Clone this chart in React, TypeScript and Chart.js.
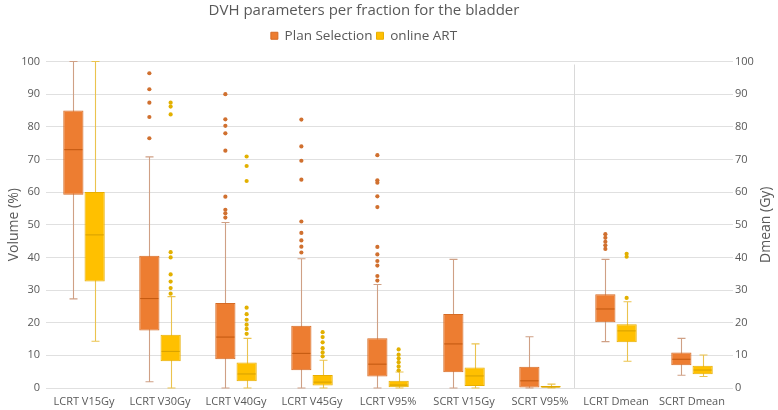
import React, { useEffect, useRef } from 'react';
import { Chart, registerables } from 'chart.js';
Chart.register(...registerables);

const categories = ['LCRT V15Gy', 'LCRT V30Gy', 'LCRT V40Gy', 'LCRT V45Gy', 'LCRT V95%', 'SCRT V15Gy', 'SCRT V95%', 'LCRT Dmean', 'SCRT Dmean'];

// Plan Selection
const psMin = [27.3, 1.9, 0, 0, 0, 0, 0, 14.2, 3.9];
const psQ1 = [59.2, 17.6, 8.8, 5.4, 3.5, 4.8, 0, 20.1, 7.0];
const psMedian = [73, 27.4, 15.6, 10.6, 7.3, 13.5, 2.2, 24.2, 8.8];
const psQ3 = [85, 40.5, 26, 19.1, 15.2, 22.7, 6.5, 28.7, 10.9];
const psMax = [100, 70.8, 50.7, 39.6, 31.7, 39.4, 15.7, 39.4, 15.2];
const psOutliers = [
  [],
  [96.4, 91.5, 87.4, 83, 76.5],
  [90, 82.3, 80.3, 78, 72.7, 58.6, 54.6, 53.5, 52.2],
  [82.2, 74, 69.6, 63.8, 51, 47.5, 45.2, 43.3, 41.5],
  [71.3, 63.6, 62.9, 58.7, 55.4, 43.2, 40.9, 38.9, 37.5, 34.3, 32.9],
  [],
  [],
  [47.1, 46, 44.8, 43.7, 42.6],
  [],
];

// online ART
const artMin = [14.3, 0, 0, 0, 0, 0, 0, 8.2, 3.5];
const artQ1 = [32.6, 8.2, 2.1, 0.8, 0.2, 0.6, 0, 14, 4.2];
const artMedian = [46.9, 11.2, 4.3, 1.8, 0.9, 3.7, 0.3, 17.5, 5.5];
const artQ3 = [60, 16.3, 7.8, 4, 2.2, 6.3, 0.6, 19.5, 6.8];
const artMax = [100, 28, 15.2, 8.5, 4.9, 13.5, 1.2, 26.4, 10.1];
const artOutliers = [
  [],
  [87.4, 86.2, 83.8, 41.6, 40, 34.8, 32.6, 30.6, 28.9],
  [70.9, 68, 63.4, 24.6, 22.6, 20.9, 19.4, 18.1, 16.6],
  [17.1, 15.6, 14, 12.2, 10.9, 9.7],
  [11.8, 10.2, 9.1, 7.9, 6.6, 5.4],
  [],
  [],
  [41.1, 40.2, 27.6],
  [],
];

const yTicks = [0, 10, 20, 30, 40, 50, 60, 70, 80, 90, 100];
const separatorAt = 6.45;
const leftTitle = 'Volume (%)';
const rightTitle = 'Dmean (Gy)';

const FONT = "'Open Sans', 'Noto Sans', sans-serif";
const TEXT = '#595959';
const HEADER_SHIFT = -25;

const seriesStyle = [
  { fill: '#ED7D31', border: '#D56B25', median: '#C55A11', whisker: '#CFA085', dot: '#D0702F' },
  { fill: '#FFC000', border: '#E8AE00', median: '#D9A300', whisker: '#EBC34E', dot: '#E2B000' },
];
const stats = [
  { min: psMin, median: psMedian, max: psMax, out: psOutliers },
  { min: artMin, median: artMedian, max: artMax, out: artOutliers },
];

const headerPlugin = {
  id: 'headerTweaks',
  beforeLayout(chart: any) {
    const lg = chart.legend;
    if (lg && !lg._gapPatched) {
      const orig = lg.fit.bind(lg);
      lg.fit = function () {
        orig();
        this.height += 9;
      };
      lg._gapPatched = true;
    }
    [chart.legend, chart.titleBlock].forEach((b: any) => {
      if (b && !b._shifted) {
        const d = b.draw.bind(b);
        b.draw = function (...args: any[]) {
          const ctx = chart.ctx;
          ctx.save();
          ctx.translate(HEADER_SHIFT, 0);
          d(...args);
          ctx.restore();
        };
        b._shifted = true;
      }
    });
  },
};

const boxPlugin = {
  id: 'boxExtras',
  beforeDatasetsDraw(chart: any) {
    const { ctx, chartArea } = chart;
    const y = chart.scales.y;
    const sx = chart.scales.x.getPixelForValue(separatorAt);
    ctx.save();
    ctx.strokeStyle = '#D9D9D9';
    ctx.lineWidth = 1;
    ctx.beginPath();
    ctx.moveTo(Math.round(sx) + 0.5, chartArea.top + 3);
    ctx.lineTo(Math.round(sx) + 0.5, chartArea.bottom);
    ctx.stroke();
    stats.forEach((s, di) => {
      const meta = chart.getDatasetMeta(di);
      ctx.strokeStyle = seriesStyle[di].whisker;
      ctx.lineWidth = 1.1;
      meta.data.forEach((bar: any, j: number) => {
        const x = Math.round(bar.x) + 0.5;
        const cap = 4;
        const yMin = y.getPixelForValue(s.min[j]);
        const yMax = y.getPixelForValue(s.max[j]);
        ctx.beginPath();
        ctx.moveTo(x, yMin);
        ctx.lineTo(x, yMax);
        ctx.moveTo(x - cap, yMin);
        ctx.lineTo(x + cap, yMin);
        ctx.moveTo(x - cap, yMax);
        ctx.lineTo(x + cap, yMax);
        ctx.stroke();
      });
    });
    ctx.restore();
  },
  afterDatasetsDraw(chart: any) {
    const { ctx } = chart;
    const y = chart.scales.y;
    ctx.save();
    stats.forEach((s, di) => {
      const meta = chart.getDatasetMeta(di);
      meta.data.forEach((bar: any, j: number) => {
        const half = bar.width / 2;
        const ym = y.getPixelForValue(s.median[j]);
        ctx.strokeStyle = seriesStyle[di].median;
        ctx.lineWidth = 1.1;
        ctx.beginPath();
        ctx.moveTo(bar.x - half + 1, ym);
        ctx.lineTo(bar.x + half - 1, ym);
        ctx.stroke();
        ctx.fillStyle = seriesStyle[di].dot;
        s.out[j].forEach((v: number) => {
          ctx.beginPath();
          ctx.arc(bar.x, y.getPixelForValue(v), 2.1, 0, Math.PI * 2);
          ctx.fill();
        });
      });
    });
    ctx.restore();
  },
  afterDraw(chart: any) {
    const { ctx, chartArea } = chart;
    const cy = (chartArea.top + chartArea.bottom) / 2;
    ctx.save();
    ctx.fillStyle = TEXT;
    ctx.font = `14px ${FONT}`;
    ctx.textAlign = 'center';
    ctx.textBaseline = 'middle';
    [[14, leftTitle], [766, rightTitle]].forEach(([x, t]: any) => {
      ctx.save();
      ctx.translate(x, cy);
      ctx.rotate(-Math.PI / 2);
      ctx.fillText(t, 0, 0);
      ctx.restore();
    });
    ctx.restore();
  },
};

export default function App() {
  const ref = useRef<HTMLCanvasElement>(null);
  useEffect(() => {
    document.body.style.margin = '0';
    const chart = new Chart(ref.current!, {
      type: 'bar',
      data: {
        labels: categories,
        datasets: [
          {
            label: 'Plan Selection',
            data: psQ1.map((q, i) => [q, psQ3[i]]) as any,
            backgroundColor: seriesStyle[0].fill,
            borderColor: seriesStyle[0].border,
            borderWidth: 1,
            borderSkipped: false,
            categoryPercentage: 0.56,
            barPercentage: 0.95,
          },
          {
            label: 'online ART',
            data: artQ1.map((q, i) => [q, artQ3[i]]) as any,
            backgroundColor: seriesStyle[1].fill,
            borderColor: seriesStyle[1].border,
            borderWidth: 1,
            borderSkipped: false,
            categoryPercentage: 0.56,
            barPercentage: 0.95,
          },
        ],
      },
      options: {
        animation: false,
        responsive: true,
        maintainAspectRatio: false,
        layout: { padding: { left: 0, right: 0, top: 0, bottom: 0 } },
        plugins: {
          title: {
            display: true,
            text: 'DVH parameters per fraction for the bladder',
            color: TEXT,
            font: { family: FONT, size: 15, weight: 'normal' },
            padding: { top: 2, bottom: 5 },
          },
          legend: {
            display: true,
            position: 'top',
            labels: {
              color: TEXT,
              font: { family: FONT, size: 13.5 },
              boxWidth: 7,
              boxHeight: 7,
              padding: 4,
            },
          },
          tooltip: { enabled: false },
        },
        scales: {
          x: {
            grid: { display: false, drawTicks: false, tickLength: 0 },
            border: { display: false },
            afterFit: (s: any) => { s.height = 22; },
            ticks: { color: TEXT, font: { family: FONT, size: 11 }, maxRotation: 0, autoSkip: false, padding: 7 },
          },
          y: {
            position: 'left',
            min: 0,
            max: 100,
            afterBuildTicks: (s: any) => { s.ticks = yTicks.map((v) => ({ value: v })); },
            afterFit: (s: any) => { s.width = 46; },
            grid: { color: '#E0E0E0', drawTicks: false, tickLength: 0 },
            border: { display: false },
            ticks: { color: TEXT, font: { family: FONT, size: 11 }, padding: 6 },
          },
          y2: {
            position: 'right',
            min: 0,
            max: 100,
            afterBuildTicks: (s: any) => { s.ticks = yTicks.map((v) => ({ value: v })); },
            afterFit: (s: any) => { s.width = 48; },
            grid: { display: true, drawOnChartArea: false, color: '#E0E0E0', tickLength: 3 },
            border: { display: false },
            ticks: { color: TEXT, font: { family: FONT, size: 11 }, padding: 2 },
          },
        },
      },
      plugins: [headerPlugin, boxPlugin],
    });
    return () => chart.destroy();
  }, []);
  return (
    <div style={{ width: 778, height: 410, position: 'relative' }}>
      <canvas ref={ref} />
    </div>
  );
}
